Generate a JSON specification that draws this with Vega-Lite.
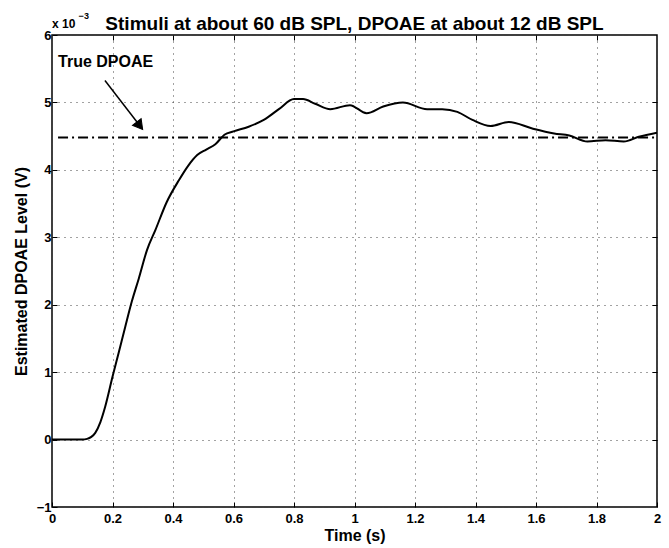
{
  "$schema": "https://vega.github.io/schema/vega-lite/v6.json",
  "autosize": {"type": "none"},
  "padding": {"left": 52, "top": 35, "right": 12, "bottom": 41},
  "width": 605,
  "height": 472,
  "background": "white",
  "config": {
    "font": "Liberation Sans",
    "view": {"stroke": "black", "strokeWidth": 1.5},
    "axis": {
      "labelFont": "Liberation Sans",
      "labelFontWeight": "bold",
      "labelFontSize": 13,
      "labelColor": "black",
      "titleFont": "Liberation Sans",
      "titleFontWeight": "bold",
      "titleFontSize": 16,
      "titleColor": "black",
      "domain": false,
      "tickColor": "black",
      "tickWidth": 1,
      "gridColor": "#444",
      "gridDash": [1, 5],
      "gridWidth": 1,
      "gridOpacity": 1
    }
  },
  "datasets": {
    "curve": [
      {"t": 0.0, "v": 0.0},
      {"t": 0.05, "v": 0.0},
      {"t": 0.1, "v": 0.0},
      {"t": 0.116, "v": 0.01},
      {"t": 0.13, "v": 0.04},
      {"t": 0.143, "v": 0.1},
      {"t": 0.16, "v": 0.26},
      {"t": 0.176, "v": 0.49},
      {"t": 0.2, "v": 0.93},
      {"t": 0.22, "v": 1.28},
      {"t": 0.242, "v": 1.67},
      {"t": 0.264, "v": 2.05},
      {"t": 0.287, "v": 2.39},
      {"t": 0.314, "v": 2.81},
      {"t": 0.342, "v": 3.11},
      {"t": 0.379, "v": 3.52},
      {"t": 0.42, "v": 3.85},
      {"t": 0.45, "v": 4.06},
      {"t": 0.48, "v": 4.22},
      {"t": 0.51, "v": 4.3},
      {"t": 0.54, "v": 4.38},
      {"t": 0.57, "v": 4.52},
      {"t": 0.6, "v": 4.57},
      {"t": 0.65, "v": 4.64},
      {"t": 0.7, "v": 4.74},
      {"t": 0.75, "v": 4.9},
      {"t": 0.8, "v": 5.05},
      {"t": 0.83, "v": 5.05},
      {"t": 0.87, "v": 4.98},
      {"t": 0.92, "v": 4.9},
      {"t": 0.985, "v": 4.96},
      {"t": 1.04, "v": 4.84},
      {"t": 1.095, "v": 4.94},
      {"t": 1.16, "v": 5.0},
      {"t": 1.24, "v": 4.9},
      {"t": 1.29, "v": 4.9},
      {"t": 1.34, "v": 4.86},
      {"t": 1.39, "v": 4.74},
      {"t": 1.45, "v": 4.65},
      {"t": 1.51, "v": 4.71},
      {"t": 1.59, "v": 4.61},
      {"t": 1.66, "v": 4.54},
      {"t": 1.71, "v": 4.51},
      {"t": 1.77, "v": 4.42},
      {"t": 1.83, "v": 4.44},
      {"t": 1.89, "v": 4.42},
      {"t": 1.94, "v": 4.49},
      {"t": 2.0, "v": 4.55}
    ],
    "truth": [{"t0": 0.02, "t1": 2.0, "v": 4.48}],
    "arrow": [{"t0": 0.175, "v0": 5.325, "t1": 0.288, "v1": 4.67}],
    "arrowhead": [{"t": 0.29, "v": 4.655}],
    "labels": [
      {"t": 0.02, "v": 5.6, "label": "True DPOAE"}
    ],
    "titles": [
      {"t": 1.0, "v": 6.067, "label": "Stimuli at about 60 dB SPL, DPOAE at about 12 dB SPL"}
    ],
    "exponent": [
      {"t": 0.0, "v": 6.107, "label": "x 10", "fs": 12},
      {"t": 0.088, "v": 6.23, "label": "−3", "fs": 9}
    ]
  },
  "resolve": {"axis": {"x": "independent", "y": "independent"}},
  "layer": [
    {
      "data": {"name": "curve"},
      "mark": {"type": "line", "color": "black", "strokeWidth": 2, "interpolate": "monotone", "clip": true},
      "encoding": {
        "x": {
          "field": "t", "type": "quantitative",
          "scale": {"domain": [0, 2], "nice": false, "zero": false},
          "axis": {"orient": "bottom", "title": "Time (s)", "values": [0, 0.2, 0.4, 0.6, 0.8, 1, 1.2, 1.4, 1.6, 1.8, 2], "format": ".1~f", "tickSize": -5, "labelPadding": 10, "titlePadding": 2, "grid": true, "labelFlush": false}
        },
        "y": {
          "field": "v", "type": "quantitative",
          "scale": {"domain": [-1, 6], "nice": false, "zero": false},
          "axis": {"orient": "left", "title": "Estimated DPOAE Level (V)", "values": [-1, 0, 1, 2, 3, 4, 5, 6], "tickSize": -5, "labelPadding": 6, "titlePadding": 7, "grid": true, "labelFlush": false}
        }
      }
    },
    {
      "data": {"name": "truth"},
      "mark": {"type": "rule", "color": "black", "strokeWidth": 2, "strokeDash": [10, 4, 2, 4]},
      "encoding": {
        "x": {"field": "t0", "type": "quantitative", "axis": {"orient": "top", "title": null, "labels": false, "grid": false, "tickSize": -5, "values": [0.2, 0.4, 0.6, 0.8, 1, 1.2, 1.4, 1.6, 1.8]}},
        "x2": {"field": "t1"},
        "y": {"field": "v", "type": "quantitative", "axis": {"orient": "right", "title": null, "labels": false, "grid": false, "tickSize": -5, "values": [0, 1, 2, 3, 4, 5]}}
      }
    },
    {
      "data": {"name": "arrow"},
      "mark": {"type": "rule", "color": "black", "strokeWidth": 1.5},
      "encoding": {
        "x": {"field": "t0", "type": "quantitative", "axis": null},
        "y": {"field": "v0", "type": "quantitative", "axis": null},
        "x2": {"field": "t1"},
        "y2": {"field": "v1"}
      }
    },
    {
      "data": {"name": "arrowhead"},
      "mark": {"type": "point", "shape": "triangle-up", "filled": true, "fill": "black", "stroke": "black", "strokeWidth": 1, "size": 120, "angle": 142, "opacity": 1},
      "encoding": {
        "x": {"field": "t", "type": "quantitative", "axis": null},
        "y": {"field": "v", "type": "quantitative", "axis": null}
      }
    },
    {
      "data": {"name": "labels"},
      "mark": {"type": "text", "align": "left", "baseline": "middle", "font": "Liberation Sans", "fontWeight": "bold", "fontSize": 16, "color": "black"},
      "encoding": {
        "x": {"field": "t", "type": "quantitative", "axis": null},
        "y": {"field": "v", "type": "quantitative", "axis": null},
        "text": {"field": "label"}
      }
    },
    {
      "data": {"name": "titles"},
      "mark": {"type": "text", "align": "center", "baseline": "alphabetic", "font": "Liberation Sans", "fontWeight": "bold", "fontSize": 19, "color": "black", "clip": false},
      "encoding": {
        "x": {"field": "t", "type": "quantitative", "axis": null},
        "y": {"field": "v", "type": "quantitative", "axis": null},
        "text": {"field": "label"}
      }
    },
    {
      "data": {"name": "exponent"},
      "mark": {"type": "text", "align": "left", "baseline": "alphabetic", "font": "Liberation Sans", "fontWeight": "bold", "color": "black", "clip": false},
      "encoding": {
        "x": {"field": "t", "type": "quantitative", "axis": null},
        "y": {"field": "v", "type": "quantitative", "axis": null},
        "text": {"field": "label"},
        "size": {"field": "fs", "type": "quantitative", "scale": null}
      }
    }
  ]
}
